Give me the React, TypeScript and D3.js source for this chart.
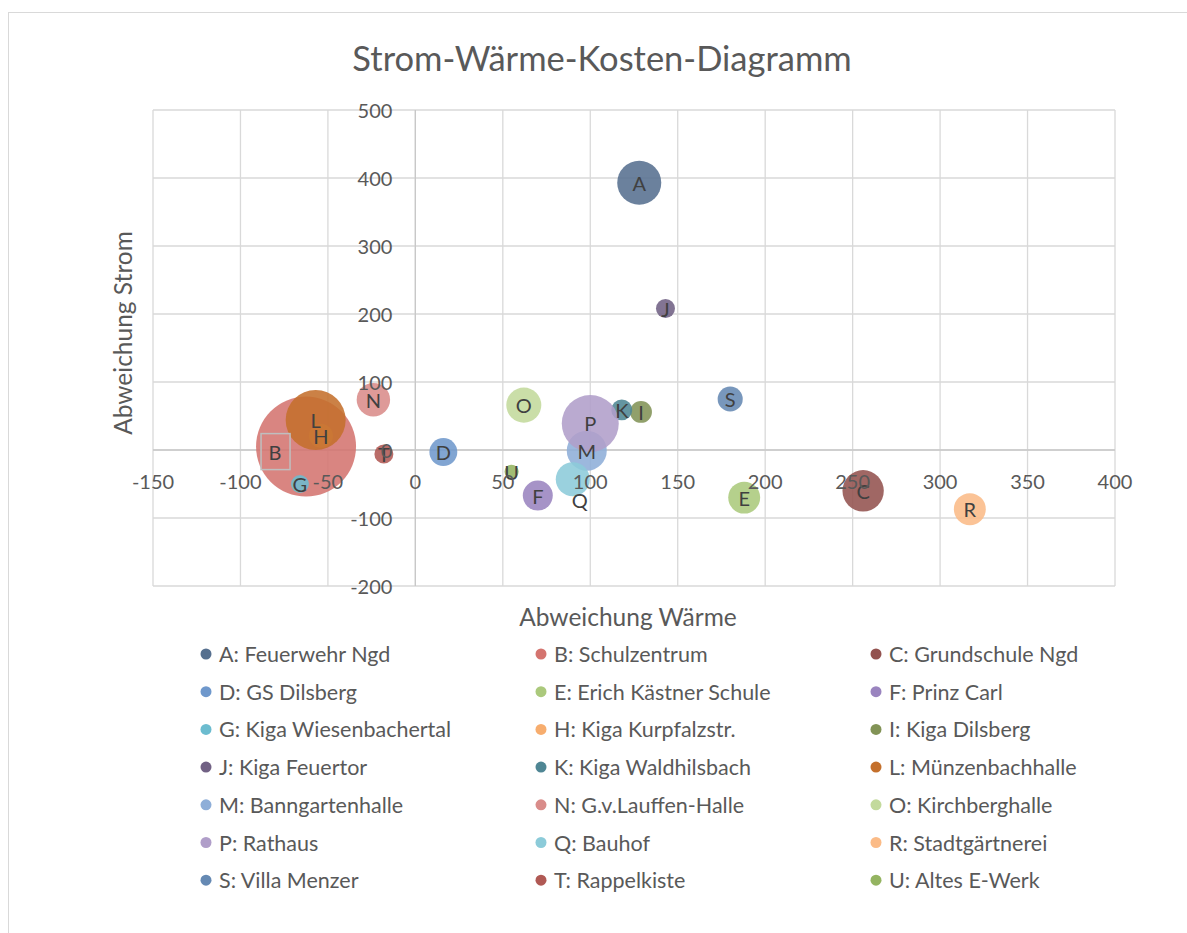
import React from "react";
import * as d3 from "d3";

const labels = ["A","B","C","D","E","F","G","H","I","J","K","L","M","N","O","P","Q","R","S","T","U"];
const names = [
  "Feuerwehr Ngd","Schulzentrum","Grundschule Ngd","GS Dilsberg","Erich Kästner Schule","Prinz Carl",
  "Kiga Wiesenbachertal","Kiga Kurpfalzstr.","Kiga Dilsberg","Kiga Feuertor","Kiga Waldhilsbach","Münzenbachhalle",
  "Banngartenhalle","G.v.Lauffen-Halle","Kirchberghalle","Rathaus","Bauhof","Stadtgärtnerei",
  "Villa Menzer","Rappelkiste","Altes E-Werk",
];
const waerme = [128, -62.5, 256, 16, 188, 70, -66, -54, 129, 143, 118, -57, 98, -24, 62, 100, 90, 317, 180, -18, 55];
const strom = [393, 5, -60, -3, -70, -67, -50, 21, 56, 208, 59, 44, -1, 74, 66, 39, -43, -87, 75, -6, -32];
const kosten = [19.4, 100, 17.1, 7.8, 10.2, 9, 3.2, 5.8, 4.8, 3.6, 4.4, 36, 16, 11.2, 12.3, 32.5, 11.6, 10.2, 6.3, 3.6, 2];
const colors = [
  "#56708f","#d4746f","#93524f","#6f98cc","#abc97c","#9a84bf",
  "#6cbccf","#f7ad6e","#829356","#716184","#4f8694","#c4702c",
  "#8eaed8","#d98c8a","#c3da9c","#b09ec9","#8ccbd9","#fbbb87",
  "#6589b3","#b05954","#94b461",
];
const xTicks = [-150, -100, -50, 0, 50, 100, 150, 200, 250, 300, 350, 400];
const yTicks = [-200, -100, 0, 100, 200, 300, 400, 500];

const W = 1187, H = 933;
const plot = { left: 153, right: 1115, top: 110, bottom: 586 };
const FONT = "Lato, 'Open Sans', sans-serif";
const TXT = "#595959";

export default function App() {
  const x = d3.scaleLinear().domain([-150, 400]).range([plot.left, plot.right]);
  const y = d3.scaleLinear().domain([-200, 500]).range([plot.bottom, plot.top]);
  const r = d3.scaleSqrt().domain([0, 100]).range([0, 50]);
  const grid = "#d9d9d9";

  const labelOffset = (l: string) =>
    l === "B" ? { dx: -31, dy: 5 } : l === "Q" ? { dx: 7, dy: 21 } : { dx: 0, dy: 0 };

  return (
    <svg width={W} height={H} style={{ position: "absolute", left: 0, top: 0, background: "#fff" }} fontFamily={FONT}>
      <rect x={8.5} y={12.5} width={1300} height={1000} fill="#fff" stroke={grid} />
      <text x={602} y={57} textAnchor="middle" dominantBaseline="central" fontSize={34.5} fill={TXT}>
        Strom-Wärme-Kosten-Diagramm
      </text>
      {xTicks.map((t) => (
        <line key={"gx" + t} x1={x(t)} x2={x(t)} y1={plot.top} y2={plot.bottom} stroke={grid} strokeWidth={1.3} />
      ))}
      {yTicks.map((t) => (
        <line key={"gy" + t} x1={plot.left} x2={plot.right} y1={y(t)} y2={y(t)} stroke={grid} strokeWidth={1.3} />
      ))}
      <line x1={x(0)} x2={x(0)} y1={plot.top} y2={plot.bottom} stroke="#c8c8c8" strokeWidth={1.3} />
      <line x1={plot.left} x2={plot.right} y1={y(0)} y2={y(0)} stroke="#c8c8c8" strokeWidth={1.3} />
      {labels.map((l, i) => (
        <circle key={"b" + l} cx={x(waerme[i])} cy={y(strom[i])} r={r(kosten[i])} fill={colors[i]} fillOpacity={0.88} />
      ))}
      {labels.map((l, i) => {
        const o = labelOffset(l);
        return (
          <g key={"l" + l}>
            {l === "B" && (
              <rect x={x(waerme[i]) + o.dx - 14} y={y(strom[i]) + o.dy - 18} width={29} height={36} fill="none" stroke="#bfbfbf" strokeWidth={1.5} />
            )}
            <text x={x(waerme[i]) + o.dx} y={y(strom[i]) + o.dy} textAnchor="middle" dominantBaseline="central" fontSize={20} fill="#404040">
              {l}
            </text>
          </g>
        );
      })}
      {xTicks.map((t) => (
        <text key={"tx" + t} x={x(t)} y={y(0) + 31} textAnchor="middle" dominantBaseline="central" fontSize={20} fill={TXT}>
          {t}
        </text>
      ))}
      {yTicks.map((t) => (
        <text key={"ty" + t} x={x(0) - 23} y={y(t)} textAnchor="end" dominantBaseline="central" fontSize={20} fill={TXT}>
          {t}
        </text>
      ))}
      <text x={628} y={616} textAnchor="middle" dominantBaseline="central" fontSize={24.5} fill={TXT}>
        Abweichung Wärme
      </text>
      <text transform={`translate(122,333) rotate(-90)`} textAnchor="middle" dominantBaseline="central" fontSize={24.5} fill={TXT}>
        Abweichung Strom
      </text>
      {labels.map((l, i) => {
        const col = i % 3, row = Math.floor(i / 3);
        const lx = 206 + col * 335, ly = 654 + row * 37.7;
        return (
          <g key={"lg" + l}>
            <circle cx={lx} cy={ly} r={5.5} fill={colors[i]} />
            <text x={lx + 13} y={ly} dominantBaseline="central" fontSize={21.5} fill={TXT}>
              {l + ": " + names[i]}
            </text>
          </g>
        );
      })}
    </svg>
  );
}
